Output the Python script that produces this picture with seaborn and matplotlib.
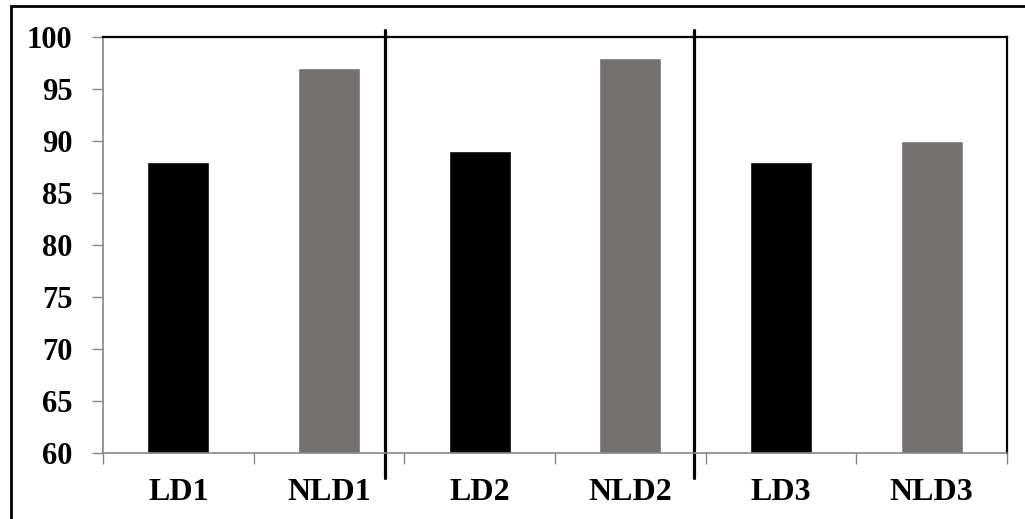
import numpy as np
import pandas as pd
import matplotlib
matplotlib.use('Agg')
import matplotlib.pyplot as plt
import matplotlib.transforms as mtransforms
from matplotlib.patches import Rectangle
import seaborn as sns

# chart values
categories = ['LD1', 'NLD1', 'LD2', 'NLD2', 'LD3', 'NLD3']
accuracy = [88, 97, 89, 98, 88, 90]
bar_colors = ['#000000', '#767171', '#000000', '#767171', '#000000', '#767171']
y_ticks = [60, 65, 70, 75, 80, 85, 90, 95, 100]
separators = [1.37, 3.42]

sns.set_theme(style='white')
plt.rcParams['font.family'] = ['Liberation Serif', 'DejaVu Serif']
plt.rcParams['font.weight'] = 'bold'

df = pd.DataFrame({'cat': categories, 'val': accuracy})

fig = plt.figure(figsize=(10.25, 5.19), dpi=100)
ax = fig.add_axes([0.1005, 0.1272, 0.882, 0.8015])

sns.barplot(data=df, x='cat', y='val', hue='cat', palette=bar_colors,
            legend=False, width=0.41, saturation=1, ax=ax)

ax.set_ylim(60, 100)
ax.set_xlim(-0.5, len(categories) - 0.5)
ax.set_yticks(y_ticks)
ax.set_yticklabels([str(t) for t in y_ticks], fontsize=22, fontweight='bold')
ax.set_xticks(range(len(categories)))
ax.set_xticklabels(categories, fontsize=23, fontweight='bold')
ax.set_xticks(np.arange(-0.5, len(categories), 1), minor=True)
ax.set_xlabel('')
ax.set_ylabel('')

ax.tick_params(axis='x', which='major', length=0, pad=18, colors='black')
ax.tick_params(axis='x', which='minor', length=8, width=1, color='#868686', direction='out', bottom=True)
ax.tick_params(axis='y', length=8, width=1, color='#868686', direction='out', left=True, pad=14, labelcolor='black')

for side in ['left', 'bottom']:
    ax.spines[side].set_color('#868686')
    ax.spines[side].set_linewidth(1.2)
for side in ['top', 'right']:
    ax.spines[side].set_color('black')
    ax.spines[side].set_linewidth(1.6)
    ax.spines[side].set_visible(True)

# group separators crossing the frame
trans = mtransforms.blended_transform_factory(ax.transData, ax.transAxes)
for sx in separators:
    ax.plot([sx, sx], [-0.06, 1.017], color='black', lw=2.3, transform=trans, clip_on=False)

# outer border (only top/left visible in image)
fig.patches.append(Rectangle((11 / 1025, -0.1), 1.2, 1 - 6 / 519 + 0.1, transform=fig.transFigure,
                             fill=False, edgecolor='black', lw=2, zorder=0))

fig.savefig('out.png', dpi=100)
